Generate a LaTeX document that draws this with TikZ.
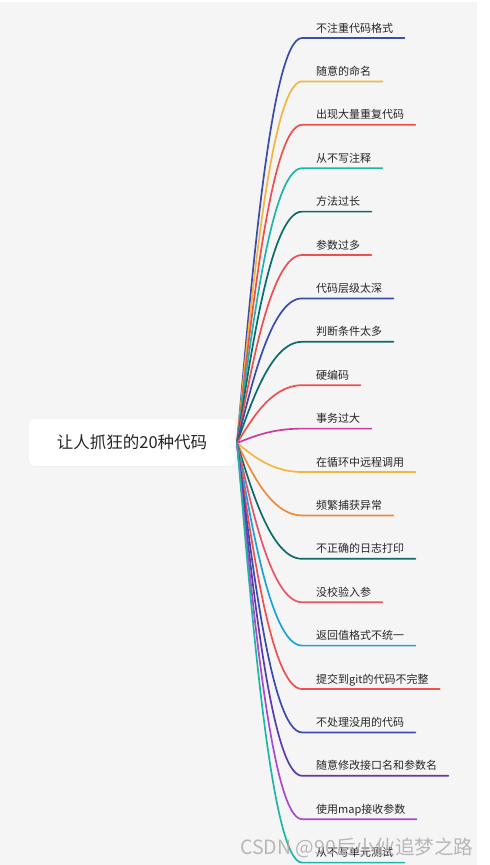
\documentclass[tikz,border=0pt]{standalone}
\usepackage{fontspec}
\usepackage{tikz}
\usetikzlibrary{positioning,calc,shadows}
\setmainfont{Noto Sans CJK SC}
\definecolor{ink}     {HTML}{262626}
\definecolor{paper}   {HTML}{F5F5F5}
\definecolor{cblue}   {HTML}{3B4CAA}
\definecolor{cyellow} {HTML}{F4B63F}
\definecolor{cred}    {HTML}{EE5050}
\definecolor{cteal}   {HTML}{1EB6A6}
\definecolor{cdteal}  {HTML}{0C6B6B}
\definecolor{cmag}    {HTML}{C93E9C}
\definecolor{corange} {HTML}{EE8A3B}
\definecolor{cpink}   {HTML}{E8546A}
\definecolor{ccyan}   {HTML}{1AA3DA}
\definecolor{cpurple} {HTML}{5A3DAA}
\definecolor{cviolet} {HTML}{A94ACB}
\tikzset{
  % --- nodes
  root/.style  = {rounded corners=5pt, fill=white, minimum width=206pt, minimum height=47pt,
                  inner sep=0pt, font=\fontsize{16.5}{19}\selectfont, text=ink},
  leaf/.style  = {anchor=base west, inner sep=0pt, font=\fontsize{11}{13}\selectfont, text=ink},
  wmark/.style = {anchor=base west, inner sep=0pt, font=\fontsize{19.6}{22}\selectfont,
                  text=black!32, opacity=0.85},
  % --- edges
  br/.style    = {line width=1.7pt, line cap=round},
}
\begin{document}
\begin{tikzpicture}[x=1pt,y=-1pt]
  \fill[white] (0,0) rectangle (490,865);
  \useasboundingbox (0,0) rectangle (490,865);
  \fill[paper] (0,2) rectangle (477,865);
  \node[root, drop shadow={opacity=0.06, shadow xshift=0pt, shadow yshift=-1pt}] (root) at (132,442.5) {让人抓狂的20种代码};
  \coordinate (hub) at (237,443);
  \foreach \i/\t/\c in {1/不注重代码格式/cblue, 2/随意的命名/cyellow, 3/出现大量重复代码/cred,
      4/从不写注释/cteal, 5/方法过长/cdteal, 6/参数过多/cred, 7/代码层级太深/cblue,
      8/判断条件太多/cdteal, 9/硬编码/cred, 10/事务过大/cmag, 11/在循环中远程调用/cyellow,
      12/频繁捕获异常/corange, 13/不正确的日志打印/cdteal, 14/没校验入参/cpink,
      15/返回值格式不统一/ccyan, 16/提交到git的代码不完整/cred, 17/不处理没用的代码/cblue,
      18/随意修改接口名和参数名/cpurple, 19/使用map接收参数/cviolet, 20/从不写单元测试/cteal} {
    \pgfmathsetmacro\yy{38+(\i-1)*43.4}
    \pgfmathsetmacro\yc{443+0.35*(\yy-443)}
    \coordinate (s\i) at (302,\yy);
    \node[leaf] (b\i) at (316,\yy-6) {\t};
    \coordinate (e\i) at ($(b\i.east |- s\i)+(11pt,0)$);
    \draw[br,\c] (hub) .. controls (250,\yc) and (270,\yy) .. (s\i) -- (e\i);
  }
  \node[wmark] (wm) at (240,854) {CSDN @90后小伙追梦之路};
\end{tikzpicture}
\end{document}
